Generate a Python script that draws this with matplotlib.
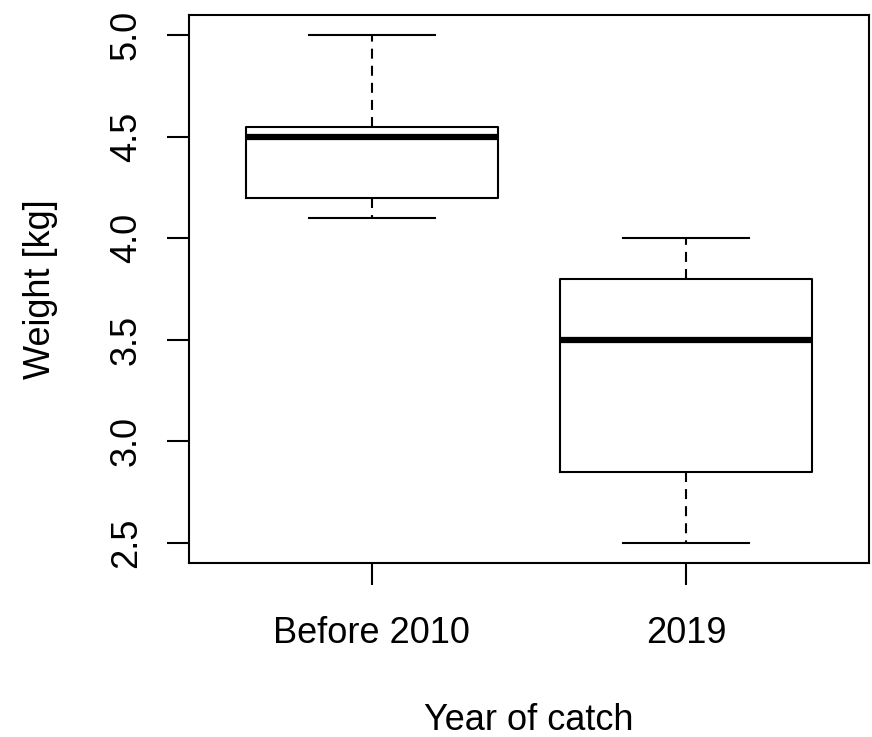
import matplotlib

matplotlib.use("Agg")
import matplotlib.pyplot as plt

# Five-number summaries of catch weight per period
groups = ["Before 2010", "2019"]
whisker_low = [4.1, 2.5]
q1 = [4.2, 2.85]
median = [4.5, 3.5]
q3 = [4.55, 3.8]
whisker_high = [5.0, 4.0]
y_ticks = [2.5, 3.0, 3.5, 4.0, 4.5, 5.0]

plt.rcParams["font.family"] = ["Liberation Sans", "DejaVu Sans"]
plt.rcParams["font.size"] = 26

W, H = 872, 737
fig = plt.figure(figsize=(W / 100, H / 100), dpi=100)
ax = fig.add_axes([189 / W, (H - 563) / H, 680 / W, 548 / H])

stats = [
    {"label": g, "whislo": lo, "q1": a, "med": m, "q3": b, "whishi": hi, "fliers": []}
    for g, lo, a, m, b, hi in zip(groups, whisker_low, q1, median, q3, whisker_high)
]
positions = list(range(1, len(groups) + 1))

ax.bxp(
    stats,
    positions=positions,
    widths=0.8,
    capwidths=0.4,
    showfliers=False,
    boxprops=dict(color="black", linewidth=1.5),
    medianprops=dict(color="black", linewidth=4.5, solid_capstyle="butt"),
    whiskerprops=dict(color="black", linewidth=1.5, linestyle=(0, (4.8, 3.4))),
    capprops=dict(color="black", linewidth=1.5),
)

ax.set_xlim(0.42, 2.58)
ax.set_ylim(2.4, 5.1)
ax.set_xticks(positions)
ax.set_xticklabels(groups)
ax.set_yticks(y_ticks)
ax.set_yticklabels([f"{v:.1f}" for v in y_ticks], rotation=90, va="center")

for side in ax.spines.values():
    side.set_linewidth(1.5)
ax.tick_params(axis="both", direction="out", length=16, width=1.5, colors="black")
ax.tick_params(axis="x", pad=22)
ax.tick_params(axis="y", pad=16.5)

fig.text(40 / W, 1 - 289 / H, "Weight [kg]", rotation=90, ha="center", va="center")
fig.text(529 / W, 1 - 720 / H, "Year of catch", ha="center", va="center")

fig.savefig("out.png", dpi=100, facecolor="white")
